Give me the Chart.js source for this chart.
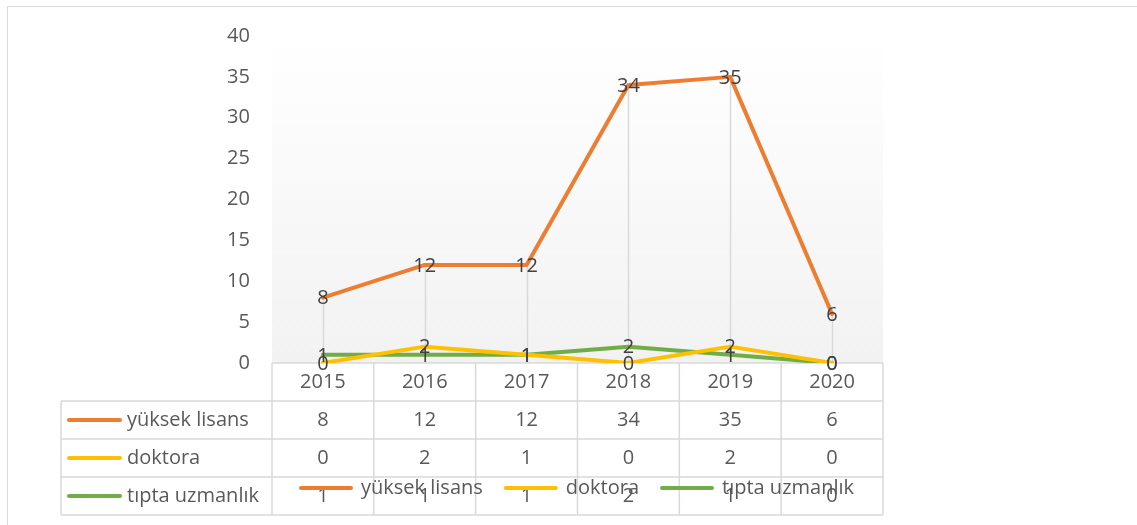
<!DOCTYPE html>
<html>
<head>
<meta charset="utf-8">
<title>yıllara göre tez sayıları</title>
<script src="https://cdn.jsdelivr.net/npm/chart.js@4.4.0/dist/chart.umd.min.js"></script>
<style>
  html, body { margin: 0; padding: 0; background: #fff; }
  #wrap { width: 1137px; height: 525px; }
</style>
</head>
<body>
<div id="wrap"><canvas id="myChart" width="1137" height="525"></canvas></div>
<script>
// veriler
var years = ["2015", "2016", "2017", "2018", "2019", "2020"];
var yuksekLisans = [8, 12, 12, 34, 35, 6];
var doktora = [0, 2, 1, 0, 2, 0];
var tiptaUzmanlik = [1, 1, 1, 2, 1, 0];
var seriesNames = ["yüksek lisans", "doktora", "tıpta uzmanlık"];
var seriesColors = ["#ED7D31", "#FFC000", "#70AD47"];
var yMin = 0, yMax = 40, yStep = 5;

var FONT = "'Open Sans', 'Noto Sans', sans-serif";
var TEXT = "#595959";
var LINE = "#d9d9d9";

// arka plan + dış çerçeve + tablo
var frame = {
  id: "frame",
  beforeDraw: function (chart) {
    var ctx = chart.ctx, a = chart.chartArea;
    ctx.save();
    ctx.fillStyle = "#fff";
    ctx.fillRect(0, 0, chart.width, chart.height);
    ctx.strokeStyle = LINE;
    ctx.lineWidth = 1;
    ctx.strokeRect(7.5, 6.5, chart.width + 20, chart.height + 20);
    var g = ctx.createLinearGradient(0, a.top, 0, a.bottom);
    g.addColorStop(0, "#ffffff");
    g.addColorStop(1, "#f2f2f2");
    ctx.fillStyle = g;
    ctx.fillRect(a.left, a.top, a.right - a.left, a.bottom - a.top);

    // veri tablosu
    var x = chart.scales.x;
    var rowH = 38;
    var top = a.bottom;
    var tableLeft = 61;
    var colW = (a.right - a.left) / years.length;
    ctx.strokeStyle = LINE;
    ctx.lineWidth = 1.5;
    ctx.beginPath();
    ctx.moveTo(a.left, top); ctx.lineTo(a.right, top);
    for (var r = 1; r <= 4; r++) {
      ctx.moveTo(tableLeft, top + r * rowH); ctx.lineTo(a.right, top + r * rowH);
    }
    ctx.moveTo(tableLeft, top + rowH); ctx.lineTo(tableLeft, top + 4 * rowH);
    for (var c = 0; c <= years.length; c++) {
      var cx = a.left + c * colW;
      ctx.moveTo(cx, top); ctx.lineTo(cx, top + 4 * rowH);
    }
    ctx.stroke();

    var rows = [yuksekLisans, doktora, tiptaUzmanlik];
    ctx.font = "20px " + FONT;
    ctx.textBaseline = "middle";
    for (var i = 0; i < rows.length; i++) {
      var cy = top + (i + 1.5) * rowH;
      ctx.strokeStyle = seriesColors[i];
      ctx.lineWidth = 4;
      ctx.lineCap = "round";
      ctx.beginPath();
      ctx.moveTo(69, cy); ctx.lineTo(120, cy);
      ctx.stroke();
      ctx.fillStyle = TEXT;
      ctx.textAlign = "left";
      ctx.fillText(seriesNames[i], 127, cy);
      ctx.textAlign = "center";
      for (var j = 0; j < rows[i].length; j++) {
        ctx.fillText(String(rows[i][j]), x.getPixelForValue(j), cy);
      }
    }
    ctx.restore();
  }
};

// dikey düşüş çizgileri
var dropLines = {
  id: "dropLines",
  beforeDatasetsDraw: function (chart) {
    var ctx = chart.ctx, x = chart.scales.x, y = chart.scales.y;
    ctx.save();
    ctx.strokeStyle = LINE;
    ctx.lineWidth = 1.5;
    for (var i = 0; i < years.length; i++) {
      var m = Math.max(yuksekLisans[i], doktora[i], tiptaUzmanlik[i]);
      var px = Math.round(x.getPixelForValue(i)) + 0.5;
      ctx.beginPath();
      ctx.moveTo(px, y.getPixelForValue(m));
      ctx.lineTo(px, chart.chartArea.bottom);
      ctx.stroke();
    }
    ctx.restore();
  }
};

// nokta üstü değer etiketleri
var valueLabels = {
  id: "valueLabels",
  afterDatasetsDraw: function (chart) {
    var ctx = chart.ctx;
    ctx.save();
    ctx.font = "20px " + FONT;
    ctx.fillStyle = "#404040";
    ctx.textAlign = "center";
    ctx.textBaseline = "middle";
    chart.data.datasets.forEach(function (ds, di) {
      var meta = chart.getDatasetMeta(di);
      meta.data.forEach(function (pt, k) {
        ctx.fillText(String(ds.data[k]), pt.x, pt.y + 1);
      });
    });
    ctx.restore();
  }
};

var datasets = [yuksekLisans, doktora, tiptaUzmanlik].map(function (d, i) {
  return {
    label: seriesNames[i],
    data: d,
    borderColor: seriesColors[i],
    backgroundColor: seriesColors[i],
    pointBorderColor: seriesColors[i],
    pointBorderWidth: 4,
    borderWidth: 4,
    borderCapStyle: "round",
    borderJoinStyle: "round",
    pointRadius: 0,
    tension: 0
  };
});

new Chart(document.getElementById("myChart"), {
  type: "line",
  data: { labels: years, datasets: datasets },
  plugins: [frame, dropLines, valueLabels],
  options: {
    responsive: false,
    animation: false,
    layout: { padding: { left: 272, right: 254, top: 36, bottom: 17 } },
    scales: {
      x: {
        offset: true,
        grid: { display: false, drawTicks: false },
        border: { display: false },
        ticks: { color: TEXT, font: { family: FONT, size: 20 }, padding: 7, maxRotation: 0 },
        afterFit: function (scale) { scale.height = 92; }
      },
      y: {
        min: yMin,
        max: yMax,
        grid: { display: false, drawTicks: false },
        border: { display: false },
        // mirror: etiketler eksen kutusunun soluna taşsın diye (genişlik 0)
        ticks: { stepSize: yStep, color: TEXT, font: { family: FONT, size: 20 }, mirror: true, crossAlign: "far", padding: -45 },
        afterFit: function (scale) { scale.width = 0; }
      }
    },
    plugins: {
      tooltip: { enabled: false },
      legend: {
        position: "bottom",
        labels: {
          usePointStyle: true,
          pointStyle: "line",
          pointStyleWidth: 50,
          padding: 23,
          color: TEXT,
          font: { family: FONT, size: 20 },
          generateLabels: function (chart) {
            var items = Chart.defaults.plugins.legend.labels.generateLabels(chart);
            items.forEach(function (it) {
              it.lineCap = "round";
              it.lineWidth = 4;
              it.strokeStyle = seriesColors[it.datasetIndex];
            });
            return items;
          }
        }
      }
    }
  }
});
</script>
</body>
</html>
